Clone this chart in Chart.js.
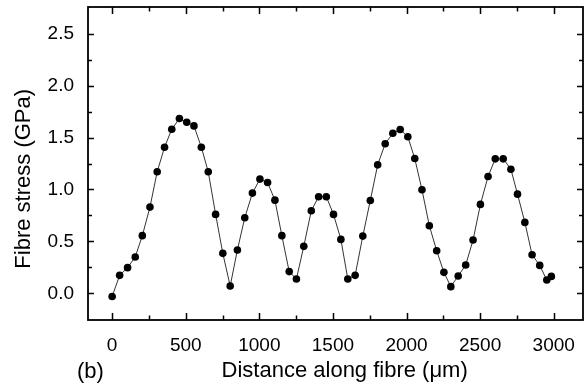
<!DOCTYPE html>
<html>
<head>
<meta charset="utf-8">
<script src="https://cdn.jsdelivr.net/npm/chart.js@4/dist/chart.umd.min.js"></script>
<style>
  body { margin: 0; background: #fff; }
  canvas { display: block; background: #fff; }
</style>
</head>
<body>
<canvas id="stressChart" width="587" height="391"></canvas>
<script>
// distance along fibre (um) and fibre stress (GPa)
const distance = [0, 51, 105, 157, 205, 257, 306, 356, 405, 457, 507, 556, 606, 653, 703, 752, 802, 851, 901, 953,
  1004, 1056, 1106, 1153, 1203, 1252, 1302, 1353, 1403, 1455, 1504, 1554, 1601, 1651, 1703, 1754, 1804, 1855, 1907, 1957,
  2009, 2056, 2105, 2155, 2205, 2254, 2301, 2351, 2402, 2452, 2502, 2554, 2603, 2657, 2709, 2754, 2804, 2853, 2905, 2953, 2984]
const stress = [-0.03, 0.173, 0.247, 0.35, 0.555, 0.83, 1.17, 1.407, 1.58, 1.683, 1.647, 1.612, 1.407, 1.17, 0.76, 0.385, 0.07, 0.417, 0.728, 0.965,
  1.1, 1.067, 0.897, 0.555, 0.209, 0.138, 0.452, 0.795, 0.93, 0.93, 0.76, 0.519, 0.138, 0.173, 0.551, 0.894, 1.237, 1.44, 1.541, 1.577,
  1.507, 1.298, 0.997, 0.651, 0.41, 0.202, 0.064, 0.167, 0.272, 0.513, 0.856, 1.125, 1.295, 1.295, 1.195, 0.955, 0.683, 0.372, 0.269, 0.128, 0.163]

// axis ticks: labelled every 500 / 0.5, small ticks in between
const xTicks = [0, 250, 500, 750, 1000, 1250, 1500, 1750, 2000, 2250, 2500, 2750, 3000]
const xLabels = ['0', '', '500', '', '1000', '', '1500', '', '2000', '', '2500', '', '3000']
const yTicks = [0, 0.25, 0.5, 0.75, 1, 1.25, 1.5, 1.75, 2, 2.25, 2.5]
const yLabels = ['0.0', '', '0.5', '', '1.0', '', '1.5', '', '2.0', '', '2.5']

const FONT = "'Liberation Sans', Arial, sans-serif"

//box round the plot with inward tick marks
const frame = {
    id: 'frame',
    afterDatasetsDraw(chart) {
        const ctx = chart.ctx
        const a = chart.chartArea
        const x = chart.scales.x
        const y = chart.scales.y
        ctx.save()
        ctx.strokeStyle = '#000'
        ctx.lineWidth = 1.5
        for (let i = 0; i < xTicks.length; i++) {
            const px = Math.round(x.getPixelForValue(xTicks[i])) + 0.5
            const len = xLabels[i] ? 7 : 4.5
            ctx.beginPath()
            ctx.moveTo(px, a.bottom)
            ctx.lineTo(px, a.bottom - len)
            ctx.moveTo(px, a.top)
            ctx.lineTo(px, a.top + len)
            ctx.stroke()
        }
        for (let i = 0; i < yTicks.length; i++) {
            const py = Math.round(y.getPixelForValue(yTicks[i])) + 0.5
            const len = yLabels[i] ? 6 : 4
            ctx.beginPath()
            ctx.moveTo(a.left, py)
            ctx.lineTo(a.left + len, py)
            ctx.moveTo(a.right, py)
            ctx.lineTo(a.right - len, py)
            ctx.stroke()
        }
        ctx.lineWidth = 1.8
        ctx.strokeRect(a.left, a.top, a.right - a.left, a.bottom - a.top)
        //panel letter
        ctx.fillStyle = '#000'
        ctx.font = '22px ' + FONT
        ctx.textBaseline = 'middle'
        ctx.fillText('(b)', 77, 372)
        ctx.restore()
    }
}

const chartData = {
    datasets: [{
        data: distance.map((d, i) => ({x: d, y: stress[i]})),
        showLine: true,
        borderColor: '#333',
        borderWidth: 1,
        tension: 0,
        pointRadius: 3.8,
        pointBackgroundColor: '#000',
        pointBorderColor: '#000',
        pointBorderWidth: 0
    }]
}

const config = {
    type: 'scatter',
    data: chartData,
    options: {
        responsive: false,
        animation: false,
        layout: { padding: { top: 7, right: 1, left: 0, bottom: 0 } },
        plugins: {
            legend: { display: false },
            tooltip: { enabled: false }
        },
        scales: {
            x: {
                type: 'linear',
                min: -164,
                max: 3199,
                afterFit: s => { s.height = 71; s.paddingLeft = 0; s.paddingRight = 0 },
                afterBuildTicks: s => { s.ticks = xTicks.map(v => ({value: v})) },
                grid: { display: false, drawTicks: false },
                border: { display: false },
                ticks: {
                    autoSkip: false,
                    maxRotation: 0,
                    padding: 14,
                    color: '#000',
                    font: { family: FONT, size: 19 },
                    callback: (v, i) => xLabels[i]
                },
                title: {
                    display: true,
                    // leading spaces nudge the title right like the original
                    text: '\u00a0\u00a0\u00a0Distance along fibre (\u03bcm)',
                    color: '#000',
                    font: { family: FONT, size: 22 },
                    padding: { top: 0, bottom: 7 }
                }
            },
            y: {
                min: -0.257,
                max: 2.757,
                afterFit: s => { s.width = 88; s.paddingTop = 0; s.paddingBottom = 0 },
                afterBuildTicks: s => { s.ticks = yTicks.map(v => ({value: v})) },
                grid: { display: false, drawTicks: false },
                border: { display: false },
                ticks: {
                    autoSkip: false,
                    padding: 14,
                    color: '#000',
                    font: { family: FONT, size: 19 },
                    callback: (v, i) => yLabels[i]
                },
                title: {
                    display: true,
                    text: 'Fibre stress (GPa)\u00a0\u00a0\u00a0\u00a0\u00a0',
                    color: '#000',
                    font: { family: FONT, size: 22 },
                    padding: { top: 11, bottom: 0 }
                }
            }
        }
    },
    plugins: [frame]
}

const stressChart = new Chart(document.getElementById('stressChart'), config)
</script>
</body>
</html>
